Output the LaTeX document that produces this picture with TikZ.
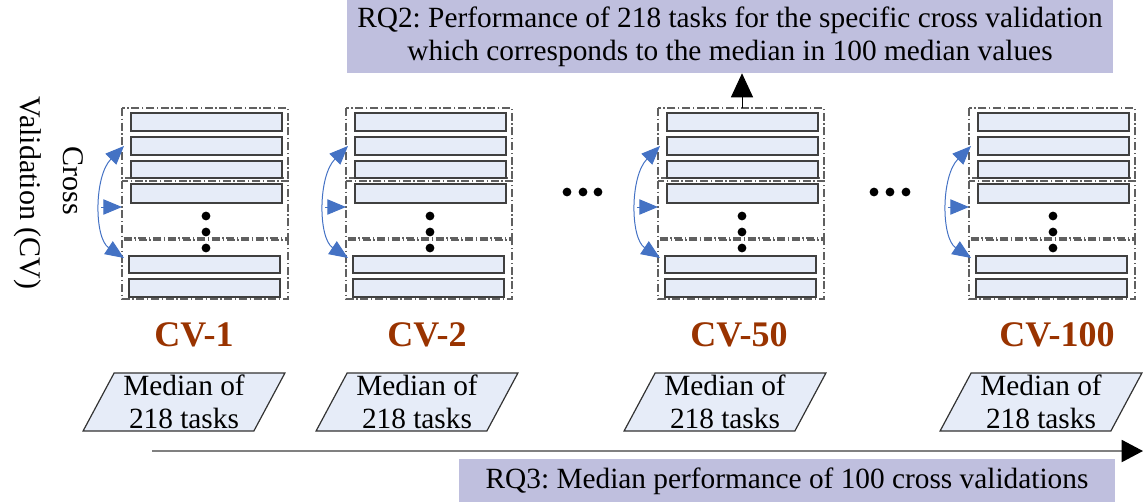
\documentclass[tikz,border=0pt]{standalone}
\usepackage{fontspec}
\setmainfont{Liberation Serif}
\frenchspacing
\usetikzlibrary{arrows.meta,shapes.geometric}
\definecolor{barfill}{RGB}{230,236,248}
\definecolor{rqfill}{RGB}{191,191,222}
\definecolor{cvred}{RGB}{153,51,0}
\definecolor{arcblue}{RGB}{68,114,196}
\definecolor{framegray}{RGB}{96,96,96}
\definecolor{axisgray}{RGB}{128,128,128}
\tikzset{
  cvbar/.style={draw=black!75, fill=barfill, line width=1.1pt},
  cvframe/.style={draw=framegray, line width=0.9pt, dash pattern=on 6pt off 2pt on 1pt off 2pt},
  rqbox/.style={fill=rqfill, inner sep=0pt, align=center, font=\fontsize{22}{24.75}\selectfont},
  medbox/.style={trapezium, trapezium left angle=63.43, trapezium right angle=116.57,
    trapezium stretches=true, draw=black!80, fill=barfill, line width=0.9pt,
    minimum width=151.5pt, minimum height=43.5pt, inner sep=0pt, align=center,
    font=\fontsize{22}{24.75}\selectfont},
  cvlabel/.style={anchor=base, text=cvred, font=\bfseries\fontsize{27}{30}\selectfont},
  blue arrow/.style={arcblue, line width=0.75pt, -{Triangle[length=14pt,width=11.5pt]}},
  side text/.style={rotate=-90, inner sep=0pt, font=\fontsize{22.5}{27}\selectfont},
}
\begin{document}
\begin{tikzpicture}[x=0.75pt,y=-0.75pt]
\useasboundingbox (0,0) rectangle (1145,501);
\node[rqbox, minimum width=574.5pt, minimum height=54.75pt] (rqtwo) at (730,36.5)
  {RQ2: Performance of 218 tasks for the specific cross validation\\which corresponds to the median in 100 median values};
\node[rqbox, minimum width=492pt, minimum height=33pt] (rqthree) at (787,481)
  {RQ3: Median performance of 100 cross validations};
\node[side text] (cross) at (73,181) {Cross};
\node[side text] (valid) at (28,193) {Validation (CV)};
% one column per cross validation
\foreach \L/\name/\lx/\mx in {122/CV-1/194/184,346/CV-2/427/417,658/CV-50/739/725,969/CV-100/1057/1041} {
  \draw[cvframe] (\L,108) rectangle (\L+166,178);
  \draw[cvframe] (\L,181) rectangle (\L+166,238);
  \draw[cvframe] (\L,240) rectangle (\L+166,299);
  \foreach \t/\b in {113/131,137/155,161/178,184/203}
    \draw[cvbar] (\L+9,\t) rectangle (\L+160,\b);
  \foreach \t/\b in {256/273,279/297}
    \draw[cvbar] (\L+7,\t) rectangle (\L+158,\b);
  \foreach \y in {216,232,248}
    \fill (\L+84,\y) circle (3.3pt);
  \draw[arcblue, line width=0.75pt, {Triangle[length=14pt,width=11.5pt]}-{Triangle[length=14pt,width=11.5pt]}]
    (\L+2,146) .. controls (\L-28,176) and (\L-28,238) .. (\L+2,258);
  \draw[blue arrow] (\L-21,207) -- (\L,207);
  \coordinate (\name) at (\L+84,108);
  \node[cvlabel] (lab\name) at (\lx,346) {\name};
  \node[medbox] (med\name) at (\mx,402) {Median of\\218 tasks};
}
\foreach \x in {567,583,598,874,890,906}
  \fill (\x,192) circle (3.3pt);
\draw[line width=0.75pt, -{Triangle[length=18pt,width=16.5pt]}] (CV-50) -- (rqtwo.south -| CV-50);
\coordinate (tstart) at (152,451);
\coordinate (tend) at (1143,451);
\draw[axisgray, line width=1.5pt, -{Triangle[length=16pt,width=16.5pt,color=black]}] (tstart) -- (tend);
\end{tikzpicture}
\end{document}
